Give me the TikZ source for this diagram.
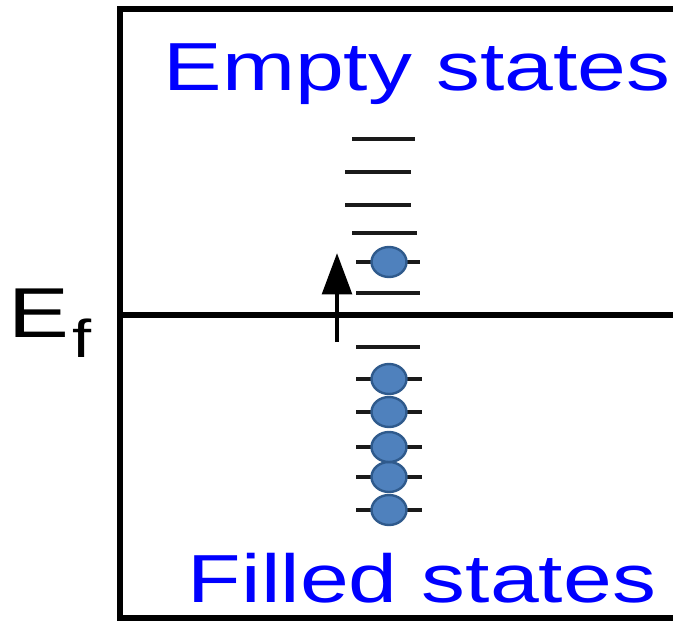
\documentclass[tikz,border=0pt]{standalone}
\usepackage{fontspec}
\setmainfont{Liberation Sans}
\usetikzlibrary{arrows.meta}
\definecolor{StateBlue}{HTML}{0000FF}
\definecolor{ElecFill}{HTML}{4F81BD}
\definecolor{ElecEdge}{HTML}{2F5A8C}
\definecolor{LevelGray}{HTML}{1A1A1A}

\begin{document}
\begin{tikzpicture}[x=0.75pt,y=-0.75pt,
    level/.style={draw=LevelGray,line width=3.5pt},
    electron/.style={fill=ElecFill,draw=ElecEdge,line width=1.8pt},
    statelabel/.style={text=StateBlue,anchor=base,xscale=1.29,inner sep=0pt,
      font=\fontsize{51}{51}\selectfont}]
  \useasboundingbox (0,0) rectangle (673,620);

  % frame, open on the right
  \draw[line width=4.5pt] (673,9) -- (120,9) -- (120,617.5) -- (673,617.5);
  % Fermi level
  \coordinate (fermiL) at (120,315);
  \coordinate (fermiR) at (673,315);
  \draw[line width=4pt] (fermiL) -- (fermiR);

  % empty levels above
  \draw[level] (352,139) -- (415,139);
  \draw[level] (345,172) -- (411,172);
  \draw[level] (345,205) -- (411,205);
  \draw[level] (352,233) -- (417,233);
  \draw[level] (356,262) -- (420,262);
  \draw[level] (356,293) -- (420,293);
  % levels below
  \draw[level] (356,347) -- (420,347);
  \foreach \yy in {379,412,447,477,510}
    \draw[level] (356,\yy) -- (422,\yy);

  % electrons
  \foreach \yy in {510,477,447,412,379,262}
    \draw[electron] (389,\yy) ellipse (17.5 and 15);

  % excitation arrow
  \coordinate (arrowtail) at (337,342);
  \coordinate (arrowtip) at (337,253);
  \draw[line width=3.5pt,-{Triangle[width=22pt,length=31pt]}] (arrowtail) -- (arrowtip);

  \node[statelabel] (empty) at (417,91) {Empty states};
  \node[statelabel] (filled) at (422,602) {Filled states};
  \node[anchor=base west,inner sep=0pt,xscale=1.29,
    font=\fontsize{53}{53}\selectfont] (ef) at (8,337)
    {E\kern2pt\raisebox{-15.5pt}{\fontsize{40}{40}\selectfont f}};
\end{tikzpicture}
\end{document}
